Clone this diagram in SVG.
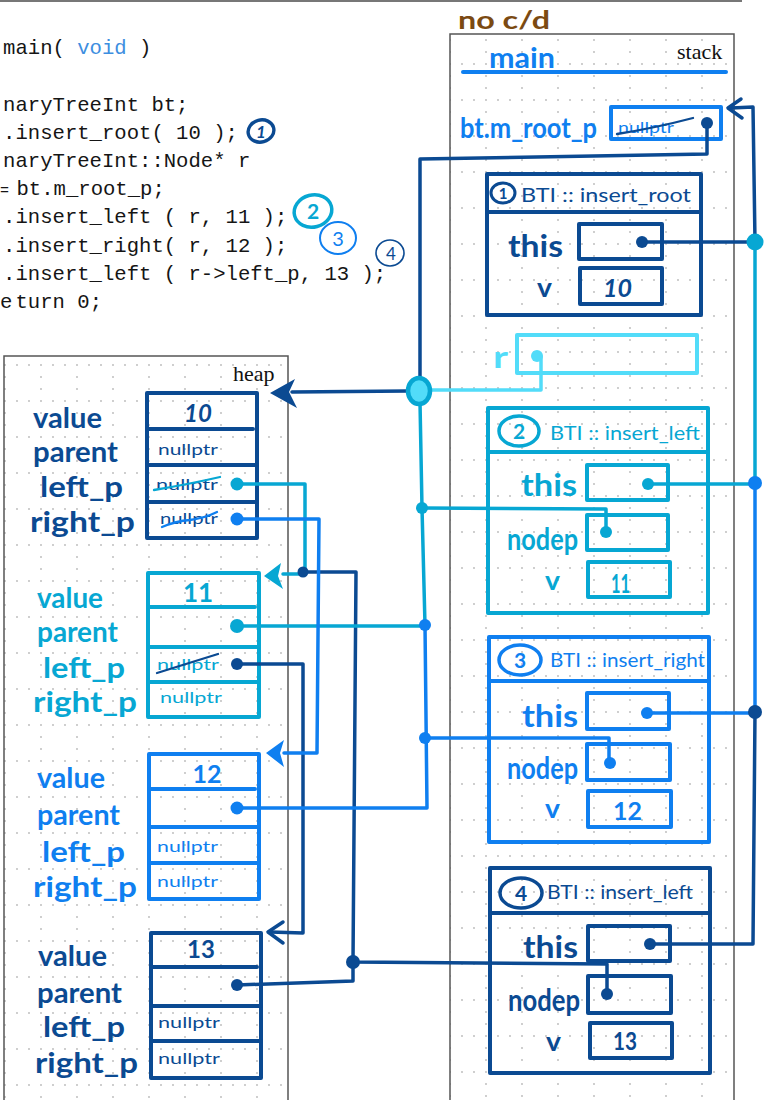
<svg xmlns="http://www.w3.org/2000/svg" width="769" height="1100" viewBox="0 0 769 1100">
<defs>
  <!-- dotted graph-paper grids for the two memory panels -->
  <pattern id="gridS" x="17" y="27" width="36" height="36" patternUnits="userSpaceOnUse">
    <g fill="#b8b8b8"><circle cx="1" cy="1" r="0.9"/><circle cx="13" cy="1" r="0.9"/><circle cx="25" cy="1" r="0.9"/><circle cx="1" cy="13" r="0.9"/><circle cx="1" cy="25" r="0.9"/></g>
  </pattern>
  <pattern id="gridH" x="4" y="4" width="36" height="36" patternUnits="userSpaceOnUse">
    <g fill="#b8b8b8"><circle cx="1" cy="1" r="0.9"/><circle cx="13" cy="1" r="0.9"/><circle cx="25" cy="1" r="0.9"/><circle cx="1" cy="13" r="0.9"/><circle cx="1" cy="25" r="0.9"/></g>
  </pattern>
</defs>
<style>
  .code{font-family:'Liberation Mono',monospace;font-size:20.6px;fill:#151515}
  .serif{font-family:'Liberation Serif',serif;font-size:22px;fill:#111}
  .hw{font-family:Lato,'Noto Sans',sans-serif;font-weight:700}
  .thin{font-family:Lato,'Noto Sans',sans-serif;font-weight:400}
  .box{fill:none;stroke-width:4;stroke-linejoin:round;stroke-linecap:round}
  .wire{fill:none;stroke-width:3.5;stroke-linejoin:round;stroke-linecap:round}
  .strike{fill:none;stroke-width:2.3;stroke-linecap:round}
  .panel{stroke:#555;stroke-width:1.5}
  .cN{stroke:#0b4a92}.fN{fill:#0b4a92}
  .cC{stroke:#07a7d3}.fC{fill:#07a7d3}
  .cB{stroke:#0f7ff0}.fB{fill:#0f7ff0}
  .cL{stroke:#52dcf9}.fL{fill:#52dcf9}
  .brown{fill:#7b4a12}
</style>

<rect width="769" height="1100" fill="#fff"/>
<path d="M0,1H742" stroke="#777" stroke-width="2"/>

<!-- source code (left margin of the listing falls outside the page) -->
<g id="code">
  <text class="code" x="3.1" y="54">main( <tspan fill="#3d8ee0">void</tspan> )</text>
  <text class="code" x="3.1" y="111">naryTreeInt bt;</text>
  <text class="code" x="3.1" y="139">.insert_root( 10 );</text>
  <text class="code" x="3.1" y="167">naryTreeInt::Node* r</text>
  <text class="code" x="0" y="195"><tspan font-size="15">=</tspan><tspan x="16.5">bt.m_root_p;</tspan></text>
  <text class="code" x="3.1" y="223">.insert_left ( r, 11 );</text>
  <text class="code" x="3.1" y="252">.insert_right( r, 12 );</text>
  <text class="code" x="3.1" y="280">.insert_left ( r-&gt;left_p, 13 );</text>
  <text class="code" x="0" y="308" fill="#4caf28">e<tspan x="15.5">turn</tspan><tspan fill="#151515"> 0;</tspan></text>
</g>

<!-- step markers next to the code -->
<g id="markers">
  <ellipse cx="261" cy="131" rx="13" ry="11" transform="rotate(-15 261 131)" fill="none" class="cN" stroke-width="3.4"/>
  <text class="hw fN" x="261" y="138" font-size="17" font-style="italic" text-anchor="middle">1</text>
  <ellipse cx="313" cy="211" rx="19" ry="16" transform="rotate(-15 313 211)" fill="none" class="cC" stroke-width="3.5"/>
  <text class="hw fC" x="313" y="219" font-size="21" text-anchor="middle">2</text>
  <ellipse cx="338" cy="238" rx="18" ry="16" fill="none" class="cB" stroke-width="2"/>
  <text class="thin fB" x="338" y="246" font-size="20" text-anchor="middle">3</text>
  <ellipse cx="390" cy="253" rx="14" ry="13" fill="none" class="cN" stroke-width="1.6"/>
  <text class="thin fN" x="391" y="260" font-size="17" text-anchor="middle">4</text>
</g>

<!-- stack panel -->
<g id="stack">
  <rect class="panel" x="450" y="34" width="284" height="1090" fill="url(#gridS)"/>
  <text class="serif" x="677" y="59">stack</text>
  <text class="hw brown" x="458" y="29" font-size="24" textLength="92" lengthAdjust="spacingAndGlyphs">no c/d</text>
</g>

<!-- heap panel -->
<g id="heap">
  <rect class="panel" x="4" y="356" width="284" height="760" fill="url(#gridH)"/>
  <text class="serif" x="233" y="381">heap</text>
</g>

<!-- main's frame -->
<g id="frame-main">
  <text class="hw fB" x="489" y="68" font-size="28" textLength="66" lengthAdjust="spacingAndGlyphs">main</text>
  <path d="M463,72H726" class="cB" stroke-width="4" stroke-linecap="round"/>
  <text class="hw fB" x="460" y="138" font-size="28" textLength="137" lengthAdjust="spacingAndGlyphs">bt.m_root_p</text>
  <rect class="box cB" x="611" y="107" width="110" height="32" stroke-width="3.5"/>
  <text class="thin fB" x="618" y="133" font-size="15" textLength="56" lengthAdjust="spacingAndGlyphs">nullptr</text>
  <path class="strike cN" d="M617,134Q655,128 693,118"/>
  <text class="hw fL" x="493" y="368" font-size="30" textLength="15" lengthAdjust="spacingAndGlyphs">r</text>
  <rect class="box cL" x="517" y="335" width="180" height="38" stroke-width="3.5"/>
</g>

<!-- frame 1: BTI::insert_root -->
<g id="frame-insert-root">
  <rect class="box cN" x="487" y="174" width="214" height="141"/>
  <path class="box cN" d="M487,212H701"/>
  <ellipse cx="503" cy="193" rx="12" ry="10" fill="none" class="cN" stroke-width="3"/>
  <text class="hw fN" x="503" y="199" font-size="15" text-anchor="middle">1</text>
  <text class="thin fN" x="521" y="202" font-size="19" textLength="170" lengthAdjust="spacingAndGlyphs">BTI :: insert_root</text>
  <text class="hw fN" x="508" y="257" font-size="30" textLength="55" lengthAdjust="spacingAndGlyphs">this</text>
  <rect class="box cN" x="579" y="224" width="83" height="35"/>
  <text class="hw fN" x="537" y="297" font-size="26" textLength="15" lengthAdjust="spacingAndGlyphs">v</text>
  <rect class="box cN" x="580" y="268" width="82" height="36"/>
  <text class="hw fN" x="603" y="297" font-size="24" font-style="italic" textLength="29" lengthAdjust="spacingAndGlyphs">10</text>
</g>

<!-- frame 2: BTI::insert_left -->
<g id="frame-insert-left-1">
  <rect class="box cC" x="488" y="408" width="220" height="205"/>
  <path class="box cC" d="M488,452H708"/>
  <ellipse cx="519" cy="431" rx="20" ry="15" fill="none" class="cC" stroke-width="3.5"/>
  <text class="hw fC" x="519" y="439" font-size="21" text-anchor="middle">2</text>
  <text class="thin fC" x="550" y="440" font-size="19" textLength="150" lengthAdjust="spacingAndGlyphs">BTI :: insert_left</text>
  <text class="hw fC" x="521" y="496" font-size="30" textLength="56" lengthAdjust="spacingAndGlyphs">this</text>
  <rect class="box cC" x="587" y="465" width="81" height="35"/>
  <text class="hw fC" x="507" y="550" font-size="30" textLength="71" lengthAdjust="spacingAndGlyphs">nodep</text>
  <rect class="box cC" x="587" y="515" width="81" height="35"/>
  <text class="hw fC" x="545" y="590" font-size="26" textLength="15" lengthAdjust="spacingAndGlyphs">v</text>
  <rect class="box cC" x="588" y="562" width="82" height="35"/>
  <text class="hw fC" x="611" y="593" font-size="27" textLength="19" lengthAdjust="spacingAndGlyphs">11</text>
</g>

<!-- frame 3: BTI::insert_right -->
<g id="frame-insert-right">
  <rect class="box cB" x="489" y="637" width="220" height="205"/>
  <path class="box cB" d="M489,681H709"/>
  <ellipse cx="520" cy="660" rx="21" ry="15" fill="none" class="cB" stroke-width="3.5"/>
  <text class="hw fB" x="520" y="668" font-size="21" text-anchor="middle">3</text>
  <text class="thin fB" x="550" y="667" font-size="19" textLength="155" lengthAdjust="spacingAndGlyphs">BTI :: insert_right</text>
  <text class="hw fB" x="522" y="727" font-size="30" textLength="56" lengthAdjust="spacingAndGlyphs">this</text>
  <rect class="box cB" x="587" y="693" width="82" height="36"/>
  <text class="hw fB" x="507" y="779" font-size="30" textLength="71" lengthAdjust="spacingAndGlyphs">nodep</text>
  <rect class="box cB" x="587" y="744" width="83" height="36"/>
  <text class="hw fB" x="545" y="818" font-size="26" textLength="15" lengthAdjust="spacingAndGlyphs">v</text>
  <rect class="box cB" x="588" y="791" width="83" height="36"/>
  <text class="hw fB" x="613" y="820" font-size="25" textLength="29" lengthAdjust="spacingAndGlyphs">12</text>
</g>

<!-- frame 4: BTI::insert_left -->
<g id="frame-insert-left-2">
  <rect class="box cN" x="490" y="868" width="220" height="205"/>
  <path class="box cN" d="M490,913H710"/>
  <ellipse cx="521" cy="893" rx="21" ry="15" fill="none" class="cN" stroke-width="3.5"/>
  <text class="hw fN" x="521" y="901" font-size="21" text-anchor="middle">4</text>
  <text class="thin fN" x="547" y="899" font-size="19" textLength="146" lengthAdjust="spacingAndGlyphs">BTI :: insert_left</text>
  <text class="hw fN" x="523" y="958" font-size="30" textLength="55" lengthAdjust="spacingAndGlyphs">this</text>
  <rect class="box cN" x="588" y="926" width="82" height="35"/>
  <text class="hw fN" x="508" y="1011" font-size="30" textLength="72" lengthAdjust="spacingAndGlyphs">nodep</text>
  <rect class="box cN" x="588" y="976" width="83" height="37"/>
  <text class="hw fN" x="546" y="1051" font-size="26" textLength="15" lengthAdjust="spacingAndGlyphs">v</text>
  <rect class="box cN" x="590" y="1023" width="82" height="35"/>
  <text class="hw fN" x="613" y="1050" font-size="24" textLength="24" lengthAdjust="spacingAndGlyphs">13</text>
</g>

<!-- heap node 10 -->
<g id="node-10">
  <text class="hw fN" x="33" y="428" font-size="28" textLength="69" lengthAdjust="spacingAndGlyphs">value</text>
  <text class="hw fN" x="33" y="462" font-size="28" textLength="85" lengthAdjust="spacingAndGlyphs">parent</text>
  <text class="hw fN" x="40" y="497" font-size="28" textLength="83" lengthAdjust="spacingAndGlyphs">left_p</text>
  <text class="hw fN" x="30" y="532" font-size="28" textLength="105" lengthAdjust="spacingAndGlyphs">right_p</text>
  <rect class="box cN" x="147" y="393" width="110" height="145"/>
  <path class="box cN" d="M147,429H253M147,465H257M147,502H257"/>
  <text class="hw fN" x="198" y="422" font-size="24" font-style="italic" text-anchor="middle">10</text>
  <text class="thin fN" x="158" y="455" font-size="16" textLength="60" lengthAdjust="spacingAndGlyphs">nullptr</text>
  <text class="thin fN" x="156" y="490" font-size="16" textLength="62" lengthAdjust="spacingAndGlyphs">nullptr</text>
  <path class="strike cC" d="M154,490Q190,484 220,477"/>
  <text class="thin fN" x="160" y="524" font-size="16" textLength="58" lengthAdjust="spacingAndGlyphs">nullptr</text>
  <path class="strike cB" d="M162,527Q176,521 190,520Q205,518 217,512"/>
</g>

<!-- heap node 11 -->
<g id="node-11">
  <text class="hw fC" x="37" y="608" font-size="28" textLength="66" lengthAdjust="spacingAndGlyphs">value</text>
  <text class="hw fC" x="37" y="642" font-size="28" textLength="81" lengthAdjust="spacingAndGlyphs">parent</text>
  <text class="hw fC" x="43" y="678" font-size="28" textLength="82" lengthAdjust="spacingAndGlyphs">left_p</text>
  <text class="hw fC" x="33" y="712" font-size="28" textLength="104" lengthAdjust="spacingAndGlyphs">right_p</text>
  <rect class="box cC" x="148" y="573" width="111" height="144"/>
  <path class="box cC" d="M148,607H255M148,647H259M148,682H259"/>
  <text class="hw fC" x="198" y="602" font-size="26" text-anchor="middle">11</text>
  <text class="thin fC" x="157" y="670" font-size="16" textLength="62" lengthAdjust="spacingAndGlyphs">nullptr</text>
  <path class="strike cN" d="M157,673L218,654"/>
  <text class="thin fC" x="160" y="703" font-size="16" textLength="62" lengthAdjust="spacingAndGlyphs">nullptr</text>
</g>

<!-- heap node 12 -->
<g id="node-12">
  <text class="hw fB" x="37" y="788" font-size="28" textLength="68" lengthAdjust="spacingAndGlyphs">value</text>
  <text class="hw fB" x="37" y="825" font-size="28" textLength="83" lengthAdjust="spacingAndGlyphs">parent</text>
  <text class="hw fB" x="42" y="862" font-size="28" textLength="83" lengthAdjust="spacingAndGlyphs">left_p</text>
  <text class="hw fB" x="33" y="897" font-size="28" textLength="104" lengthAdjust="spacingAndGlyphs">right_p</text>
  <rect class="box cB" x="149" y="754" width="110" height="145"/>
  <path class="box cB" d="M149,789H255M149,827H259M149,863H259"/>
  <text class="hw fB" x="207" y="783" font-size="25" text-anchor="middle">12</text>
  <text class="thin fB" x="157" y="852" font-size="16" textLength="61" lengthAdjust="spacingAndGlyphs">nullptr</text>
  <text class="thin fB" x="157" y="887" font-size="16" textLength="61" lengthAdjust="spacingAndGlyphs">nullptr</text>
</g>

<!-- heap node 13 -->
<g id="node-13">
  <text class="hw fN" x="38" y="966" font-size="28" textLength="69" lengthAdjust="spacingAndGlyphs">value</text>
  <text class="hw fN" x="37" y="1003" font-size="28" textLength="85" lengthAdjust="spacingAndGlyphs">parent</text>
  <text class="hw fN" x="43" y="1037" font-size="28" textLength="82" lengthAdjust="spacingAndGlyphs">left_p</text>
  <text class="hw fN" x="35" y="1073" font-size="28" textLength="103" lengthAdjust="spacingAndGlyphs">right_p</text>
  <rect class="box cN" x="151" y="933" width="110" height="145"/>
  <path class="box cN" d="M151,967H257M151,1006H261M151,1041H261"/>
  <text class="hw fN" x="201" y="958" font-size="24" text-anchor="middle">13</text>
  <text class="thin fN" x="158" y="1028" font-size="16" textLength="62" lengthAdjust="spacingAndGlyphs">nullptr</text>
  <text class="thin fN" x="158" y="1064" font-size="16" textLength="62" lengthAdjust="spacingAndGlyphs">nullptr</text>
</g>

<!-- pointer connectors -->
<g id="connectors">
  <!-- navy -->
  <path class="wire cN" d="M707,123V154L420,159V380"/>
  <path class="wire cN" d="M408,391L292,392"/>
  <path class="fN" d="M270,393L295,379L289,392L297,408Z"/>
  <path class="wire cN" d="M642,242H755"/>
  <path class="wire cN" d="M755,242L753,107L731,108"/>
  <path class="wire cN" stroke-width="4" d="M741,99L728,108L742,118"/>
  <path class="wire cN" d="M755,712L753,944L650,944"/>
  <path class="wire cN" d="M607,994V964L353,962L356,572H303"/>
  <path class="wire cN" d="M237,985L353,981V962"/>
  <path class="wire cN" d="M237,664H303V933L270,932"/>
  <path class="wire cN" d="M283,922L268,932L283,943"/>
  <!-- cyan -->
  <path class="wire cC" d="M237,484H305V574H283"/>
  <path class="fC" d="M264,576L281,563L278,576L283,589Z"/>
  <path class="wire cC" d="M420,402L422,508L425,625"/>
  <path class="wire cC" d="M422,508L606,509V532"/>
  <path class="wire cC" d="M237,626H425"/>
  <path class="wire cC" d="M755,242V483"/>
  <path class="wire cC" d="M648,484H755"/>
  <!-- bright blue -->
  <path class="wire cB" d="M237,519H319L317,753H284"/>
  <path class="fB" d="M266,753L284,740L280,753L284,767Z"/>
  <path class="wire cB" d="M425,625L427,808H237"/>
  <path class="wire cB" d="M425,738H609V763"/>
  <path class="wire cB" d="M755,483V712"/>
  <path class="wire cB" d="M647,713H755"/>
  <!-- light cyan (r) -->
  <path class="wire cL" d="M537,356L541,357V390H430"/>
  <!-- shared junction of r and bt.m_root_p -->
  <ellipse cx="419" cy="391" rx="11" ry="13" fill="#52dcf9" class="cC" stroke-width="4.5"/>
  <!-- pointer tails and junctions -->
  <g class="fN">
    <circle cx="707" cy="123" r="6"/><circle cx="642" cy="242" r="6"/><circle cx="650" cy="944" r="6"/>
    <circle cx="607" cy="994" r="6"/><circle cx="237" cy="985" r="6"/><circle cx="237" cy="664" r="6"/>
    <circle cx="303" cy="572" r="5.5"/><circle cx="353" cy="962" r="7"/><circle cx="755" cy="712" r="7"/>
  </g>
  <g class="fC">
    <circle cx="237" cy="484" r="6.5"/><circle cx="606" cy="532" r="6"/><circle cx="237" cy="626" r="7"/>
    <circle cx="648" cy="484" r="6"/><circle cx="422" cy="508" r="6"/><circle cx="755" cy="242" r="8.5"/>
  </g>
  <g class="fB">
    <circle cx="237" cy="519" r="6.5"/><circle cx="237" cy="808" r="6.5"/><circle cx="610" cy="763" r="6"/>
    <circle cx="647" cy="713" r="6"/><circle cx="425" cy="625" r="6"/><circle cx="425" cy="738" r="6"/>
    <circle cx="755" cy="483" r="7"/>
  </g>
  <circle class="fL" cx="537" cy="356" r="6"/>
</g>
</svg>
